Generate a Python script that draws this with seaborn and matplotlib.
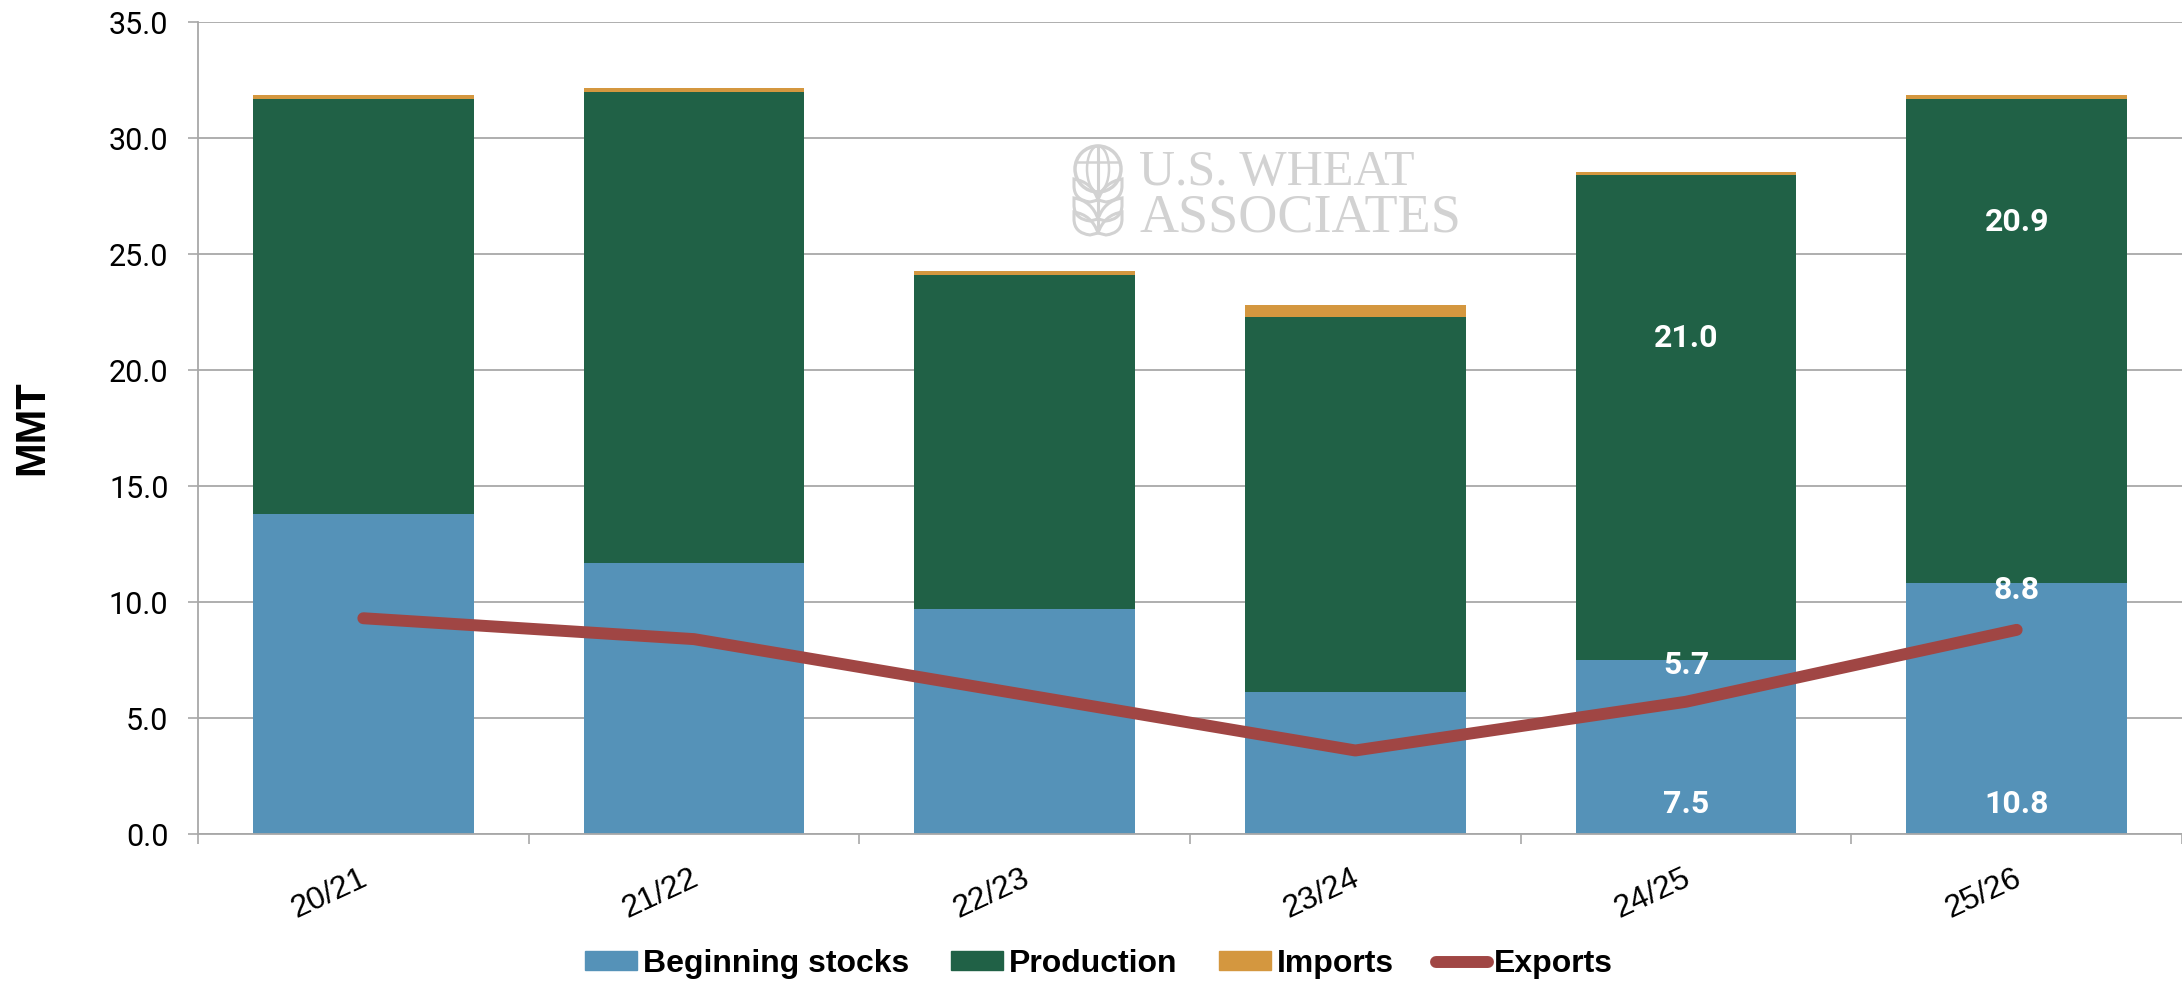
import matplotlib
matplotlib.use("Agg")
import matplotlib.pyplot as plt
from matplotlib.lines import Line2D
from matplotlib.patches import Patch, Ellipse, PathPatch
from matplotlib.path import Path
from matplotlib.transforms import ScaledTranslation
import pandas as pd
import seaborn as sns

years = ["20/21", "21/22", "22/23", "23/24", "24/25", "25/26"]
stocks = [13.8, 11.7, 9.7, 6.1, 7.5, 10.8]
production = [17.9, 20.3, 14.4, 16.2, 20.9, 20.9]
imports = [0.15, 0.15, 0.15, 0.5, 0.15, 0.15]
exports = [9.3, 8.4, 6.0, 3.6, 5.7, 8.8]

BLUE = "#5592b8"
GREEN = "#206146"
ORANGE = "#d4973f"
RED = "#a04644"
GRID = "#a8a8a8"
LOGO = "#d2d2d2"

sns.set_theme(style="white")
plt.rcParams["font.family"] = ["Liberation Sans"]
plt.rcParams["text.color"] = "black"
narrow = "Roboto"

df = pd.DataFrame({"year": years, "stocks": stocks, "production": production,
                   "imports": imports, "exports": exports})
df["to_prod"] = df["stocks"] + df["production"]
df["to_imp"] = df["to_prod"] + df["imports"]

W, H = 2182, 982
fig = plt.figure(figsize=(W / 100, H / 100), dpi=100)
ax = fig.add_axes([198 / W, 1 - 834 / H, 1 - 198 / W, 812 / H])
ax.set_axisbelow(True)

# stacked by overdrawing the running totals, biggest first
for col, color in [("to_imp", ORANGE), ("to_prod", GREEN), ("stocks", BLUE)]:
    sns.barplot(data=df, x="year", y=col, color=color, width=0.667, saturation=1,
                linewidth=0, ax=ax)
sns.lineplot(data=df, x="year", y="exports", color=RED, linewidth=8.6, sort=False,
             solid_capstyle="round", solid_joinstyle="round", ax=ax, legend=False)

ax.set_xlim(-0.5, 5.488)
ax.set_ylim(0, 35)
ax.set_xlabel("")
ax.set_ylabel("MMT", fontsize=30, fontweight="bold", labelpad=0, color="black")
ax.yaxis.set_label_coords(-146 / (W - 198), 0.501)

ax.set_yticks(range(0, 36, 5))
ax.set_yticklabels([f"{v:.1f}" for v in range(0, 36, 5)], family=narrow, fontsize=22, color="black")
ax.grid(axis="y", color=GRID, linewidth=1.3)
ax.grid(axis="x", visible=False)
ax.tick_params(axis="y", length=7.2, width=1.2, color=GRID, pad=14, left=True)

# ticks sit between the bars, labels under the bars
ax.set_xticks([i - 0.5 for i in range(7)])
ax.set_xticklabels([""] * 7)
ax.set_xticks(range(6), minor=True)
ax.set_xticklabels(years, minor=True, rotation=25, ha="right", fontsize=23, color="black")
ax.tick_params(axis="x", which="major", length=7.2, width=1.2, color=GRID, bottom=True)
ax.tick_params(axis="x", which="minor", length=0, pad=21)
nudge = ScaledTranslation(0.09, 0, fig.dpi_scale_trans)
for lab in ax.get_xticklabels(minor=True):
    lab.set_transform(lab.get_transform() + nudge)

for name in ["top", "right"]:
    ax.spines[name].set_visible(False)
for name in ["left", "bottom"]:
    ax.spines[name].set_color(GRID)
    ax.spines[name].set_linewidth(1.3)

label_font = dict(color="white", fontsize=23, fontweight="bold", family=narrow,
                  ha="center", va="center", zorder=5)
ax.text(4, 1.3, f"{stocks[4]:.1f}", **label_font)
ax.text(5, 1.3, f"{stocks[5]:.1f}", **label_font)
ax.text(4, 7.3, f"{exports[4]:.1f}", **label_font)
ax.text(5, 10.5, f"{exports[5]:.1f}", **label_font)
ax.text(4, 21.4, "21.0", **label_font)
ax.text(5, 26.4, "20.9", **label_font)

# watermark
fig.text(1139 / W, 1 - 185 / H, "U.S. WHEAT", family="Liberation Serif", fontsize=36,
         color=LOGO, va="baseline", ha="left")
fig.text(1139 / W, 1 - 232 / H, "ASSOCIATES", family="Liberation Serif", fontsize=39,
         color=LOGO, va="baseline", ha="left")
logo = fig.add_axes([1060 / W, 1 - 240 / H, 80 / W, 100 / H])
logo.set_xlim(1060, 1140)
logo.set_ylim(240, 140)
logo.axis("off")
logo.patch.set_alpha(0)
cx, cy = 1098, 169
logo.add_patch(Ellipse((cx, cy), 46, 46, fill=False, ec=LOGO, lw=2.5))
logo.add_patch(Ellipse((cx, cy), 22, 46, fill=False, ec=LOGO, lw=1.8))
logo.plot([cx, cx], [146, 232], color=LOGO, lw=2.2)
logo.plot([cx - 21, cx + 21], [cy - 7, cy - 7], color=LOGO, lw=1.8)
for top in [180, 199, 213]:
    for side in [-1, 1]:
        verts = [(cx, top + 20), (cx + side * 6, top + 2), (cx + side * 24, top - 1),
                 (cx + side * 24, top + 6), (cx + side * 24, top + 20), (cx + side * 8, top + 22), (cx, top + 20)]
        codes = [Path.MOVETO, Path.CURVE3, Path.CURVE3, Path.LINETO, Path.CURVE3, Path.CURVE3, Path.CLOSEPOLY]
        logo.add_patch(PathPatch(Path(verts, codes), fill=False, ec=LOGO, lw=2.2))

handles = [Patch(color=BLUE, label="Beginning stocks"),
           Patch(color=GREEN, label="Production"),
           Patch(color=ORANGE, label="Imports"),
           Line2D([], [], color=RED, lw=8.6, solid_capstyle="round", label="Exports")]
leg = fig.legend(handles=handles, loc="center", bbox_to_anchor=(1099 / W, 1 - 964 / H), ncol=4,
                 frameon=False, handlelength=1.62, handleheight=0.55, handletextpad=0.2, columnspacing=1.3,
                 prop=dict(family="Liberation Sans", weight="bold", size=23))

fig.savefig("out.png", dpi=100, facecolor="white")
